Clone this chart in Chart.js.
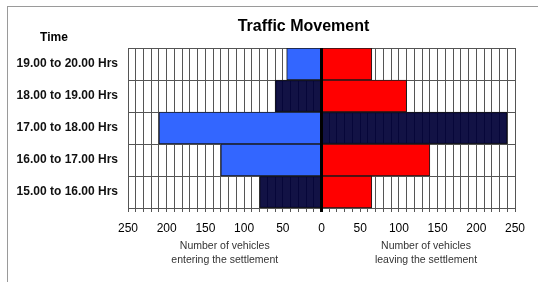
<!DOCTYPE html>
<html>
<head>
<meta charset="utf-8">
<script src="https://cdn.jsdelivr.net/npm/chart.js@4/dist/chart.umd.min.js"></script>
<style>
  html, body { margin: 0; padding: 0; background: #fff; }
  #wrap { position: relative; width: 538px; height: 282px; overflow: hidden; }
  #frame {
    position: absolute; left: 7px; top: 6px; width: 600px; height: 400px;
    border-left: 1px solid #9a9a9a; border-top: 1px solid #9a9a9a;
  }
  canvas { position: absolute; left: 0; top: 0; }
</style>
</head>
<body>
<div id="wrap">
  <div id="frame"></div>
  <canvas id="chart" width="538" height="282"></canvas>
</div>
<script>
// time slots, top row first
const slots = [
  '19.00 to 20.00 Hrs',
  '18.00 to 19.00 Hrs',
  '17.00 to 18.00 Hrs',
  '16.00 to 17.00 Hrs',
  '15.00 to 16.00 Hrs',
];
const entering = [45, 60, 210, 130, 80];
const leaving = [65, 110, 240, 140, 65];
const axisMax = 250;
const labelStep = 50;
const gridStep = 10;

const BLUE = '#3366ff', RED = '#ff0000', NAVY = 'rgba(0,0,55,0.93)';
const enteringColors = [BLUE, NAVY, BLUE, BLUE, NAVY];
const leavingColors = [RED, RED, NAVY, RED, RED];

const FONT = "'Liberation Sans', Arial, sans-serif";

const extraText = {
  id: 'extraText',
  afterDatasetsDraw(chart) {
    // heavy zero line drawn over the bars
    const { ctx, chartArea: a } = chart;
    const zx = chart.scales.x.getPixelForValue(0);
    ctx.save();
    ctx.strokeStyle = '#000';
    ctx.lineWidth = 3;
    ctx.beginPath();
    ctx.moveTo(zx, a.top);
    ctx.lineTo(zx, a.bottom + 4);
    ctx.stroke();
    ctx.restore();
  },
  afterDraw(chart) {
    const { ctx, chartArea: a } = chart;
    const x = chart.scales.x;
    ctx.save();
    ctx.fillStyle = '#000';
    ctx.textAlign = 'center';
    ctx.textBaseline = 'middle';
    ctx.font = `bold 16px ${FONT}`;
    ctx.fillText('Traffic Movement', (a.left + a.right) / 2 - 18, 27);
    ctx.font = `bold 12px ${FONT}`;
    ctx.fillText('Time', 54, 38);
    ctx.fillStyle = '#333';
    ctx.font = `10.5px ${FONT}`;
    const lx = x.getPixelForValue(-125), rx = x.getPixelForValue(135);
    ctx.fillText('Number of vehicles', lx, 246);
    ctx.fillText('entering the settlement', lx, 260);
    ctx.fillText('Number of vehicles', rx, 246);
    ctx.fillText('leaving the settlement', rx, 260);
    ctx.restore();
  },
};

new Chart(document.getElementById('chart'), {
  type: 'bar',
  data: {
    labels: slots,
    datasets: [
      {
        label: 'Entering',
        data: entering.map((v) => -v),
        backgroundColor: enteringColors,
        borderColor: '#1a1a1a',
        borderWidth: 1,
        barPercentage: 1,
        categoryPercentage: 1,
      },
      {
        label: 'Leaving',
        data: leaving,
        backgroundColor: leavingColors,
        borderColor: '#1a1a1a',
        borderWidth: 1,
        barPercentage: 1,
        categoryPercentage: 1,
      },
    ],
  },
  options: {
    indexAxis: 'y',
    responsive: false,
    animation: false,
    layout: { padding: { top: 48, right: 23, left: 0, bottom: 0 } },
    plugins: {
      legend: { display: false },
      title: { display: false },
      tooltip: { enabled: false },
    },
    scales: {
      x: {
        stacked: true,
        min: -axisMax,
        max: axisMax,
        afterFit: (s) => (s.height = 74),
        ticks: {
          stepSize: gridStep,
          autoSkip: false,
          maxRotation: 0,
          padding: 9,
          color: '#000',
          font: { family: FONT, size: 12 },
          callback: (v) => (v % labelStep === 0 ? String(Math.abs(v)) : ''),
        },
        grid: { color: '#555', tickLength: 4 },
        border: { color: '#555' },
      },
      y: {
        stacked: true,
        afterFit: (s) => (s.width = 128),
        ticks: {
          padding: 10,
          color: '#111',
          font: { family: FONT, size: 12, weight: 'bold' },
        },
        grid: { color: '#555', drawTicks: false, tickLength: 0 },
        border: { color: '#555' },
      },
    },
  },
  plugins: [extraText],
});
</script>
</body>
</html>
